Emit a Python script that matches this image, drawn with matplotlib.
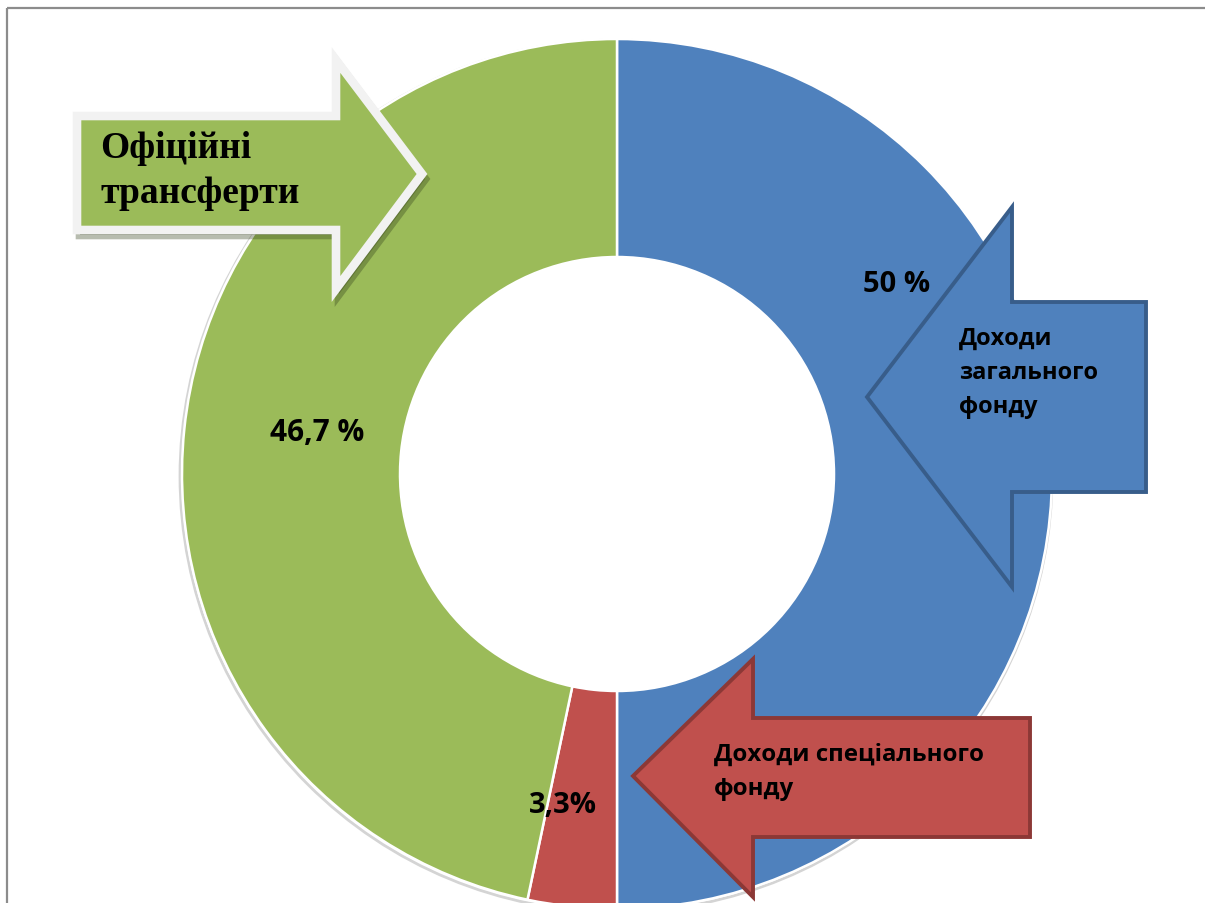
import matplotlib
matplotlib.use("Agg")
import matplotlib.pyplot as plt
from matplotlib.patches import Polygon, Rectangle, Circle

# Data
categories = ["Доходи загального фонду", "Доходи спеціального фонду", "Офіційні трансферти"]
shares = [50.0, 3.3, 46.7]
labels = ["50 %", "3,3%", "46,7 %"]
colors = ["#4f81bd", "#c0504d", "#9bbb59"]

W, H = 1205, 904
CX, CY, R_OUT, R_IN = 617, 475, 435, 217

SANS = ["Open Sans", "DejaVu Sans"]
SERIF = ["Liberation Serif", "DejaVu Serif"]

fig = plt.figure(figsize=(W / 100, H / 100), dpi=100)
ax = fig.add_axes([0, 0, 1, 1])

# faint shadow round the outer edge of the ring
ax.add_patch(Circle((CX - 1, CY + 2), R_OUT + 1, fill=False, edgecolor="#d4d4d4", lw=2, zorder=0))

# y axis is inverted below (pixel coords), so start at -90 and go "counterclockwise"
# -> visually starts at 12 o'clock and runs clockwise
ax.pie(shares, colors=colors, startangle=-90, counterclock=True,
       radius=R_OUT, center=(CX, CY),
       wedgeprops=dict(width=R_OUT - R_IN, edgecolor="white", linewidth=1.8))

ax.set_xlim(0, W)
ax.set_ylim(H, 0)
ax.axis("off")

# frame of the original slide
ax.add_patch(Rectangle((7, 9), W, H, fill=False, edgecolor="#8c8c8c", lw=1.6, zorder=1))


def arrow(pts, face, edge, lw, z, shadow=False):
    if shadow:
        sh = [(x + 3, y + 5) for x, y in pts]
        ax.add_patch(Polygon(sh, closed=True, facecolor=(0.2, 0.25, 0.1, 0.35),
                             edgecolor=(0.2, 0.25, 0.1, 0.35), lw=lw, joinstyle="miter", zorder=z))
    ax.add_patch(Polygon(pts, closed=True, facecolor=face, edgecolor=edge,
                         lw=lw, joinstyle="miter", zorder=z + 0.1))


# green arrow pointing right
green_pts = [(77, 117), (336, 117), (336, 61), (422, 175), (336, 290), (336, 231), (77, 231)]
arrow(green_pts, colors[2], "#f2f2f2", 6.2, 3, shadow=True)

# blue arrow pointing left
blue_pts = [(867, 398), (1012, 208), (1012, 303), (1146, 303), (1146, 493), (1012, 493), (1012, 588)]
arrow(blue_pts, colors[0], "#385d8a", 2.8, 3)

# red arrow pointing left
red_pts = [(633, 777), (753, 660), (753, 719), (1030, 719), (1030, 838), (753, 838), (753, 898)]
arrow(red_pts, colors[1], "#8c3836", 2.8, 3)

# percentage labels
ax.text(897, 285, labels[0], ha="center", va="center", fontsize=21,
        fontweight="bold", family=SANS, zorder=5)
ax.text(563, 806, labels[1], ha="center", va="center", fontsize=21,
        fontweight="bold", family=SANS, zorder=5)
ax.text(317, 433, labels[2], ha="center", va="center", fontsize=21.5,
        fontweight="bold", family=SANS, zorder=5)

# arrow captions (va=baseline on multi-line text anchors the last line)
ax.text(100, 203, "Офіційні\nтрансферти", ha="left", va="baseline", fontsize=27,
        fontweight="bold", family=SERIF, linespacing=1.36, zorder=5)
ax.text(959, 413, "Доходи\nзагального\nфонду", ha="left", va="baseline", fontsize=17,
        fontweight="bold", family=SANS, linespacing=1.56, zorder=5)
ax.text(714, 795, "Доходи спеціального\nфонду", ha="left", va="baseline", fontsize=17.3,
        fontweight="bold", family=SANS, linespacing=1.55, zorder=5)

fig.savefig("out.png", dpi=100)
